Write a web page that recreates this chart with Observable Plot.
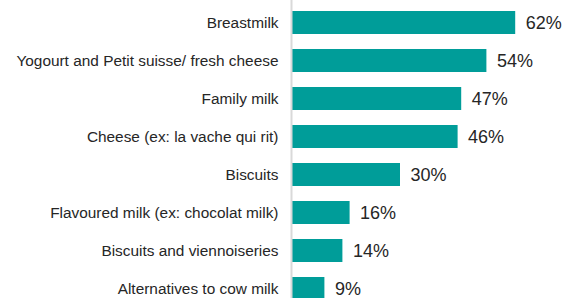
<!DOCTYPE html>
<html>
<head>
<meta charset="utf-8">
<script src="https://cdn.jsdelivr.net/npm/d3@7"></script>
<script src="https://cdn.jsdelivr.net/npm/@observablehq/plot@0.6"></script>
<style>
  html, body { margin: 0; padding: 0; background: #fff; }
  #chart svg { display: block; }
</style>
</head>
<body>
<div id="chart"></div>
<script>
const categories = [
  "Breastmilk",
  "Yogourt and Petit suisse/ fresh cheese",
  "Family milk",
  "Cheese (ex: la vache qui rit)",
  "Biscuits",
  "Flavoured milk (ex: chocolat milk)",
  "Biscuits and viennoiseries",
  "Alternatives to cow milk"
];
const values = [62, 54, 47, 46, 30, 16, 14, 9];
const valueLabels = ["62%", "54%", "47%", "46%", "30%", "16%", "14%", "9%"];

const data = categories.map((c, i) => ({category: c, value: values[i], label: valueLabels[i]}));

const chart = Plot.plot({
  width: 565,
  height: 298,
  marginLeft: 292,
  marginRight: 3,
  marginTop: 0,
  marginBottom: 0,
  style: {fontFamily: "'Liberation Sans', Arial, sans-serif", background: "#fff", overflow: "hidden"},
  x: {domain: [0, 75], axis: null},
  y: {domain: categories, range: [2.3, 308.7], paddingInner: 0.4, paddingOuter: 0.2, label: null},
  marks: [
    Plot.barX(data, {x: "value", y: "category", fill: "#009d99"}),
    Plot.ruleX([0], {stroke: "#d9d9d9", strokeWidth: 2, dx: -1}),
    Plot.axisY({tickSize: 0, tickPadding: 14, fontSize: 15.4, color: "#262626", label: null}),
    Plot.text(data, {x: "value", y: "category", text: "label", dx: 10, textAnchor: "start", fontSize: 18, fill: "#262626"})
  ]
});
document.getElementById("chart").appendChild(chart);
</script>
</body>
</html>
